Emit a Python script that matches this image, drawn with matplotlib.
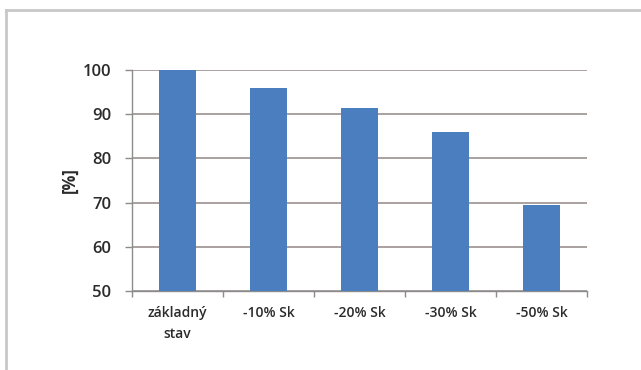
import matplotlib
matplotlib.use("Agg")
import matplotlib.pyplot as plt
from matplotlib.lines import Line2D

categories = ["základný\nstav", "-10% Sk", "-20% Sk", "-30% Sk", "-50% Sk"]
values = [100.0, 96.0, 91.3, 85.9, 69.4]
y_ticks = [50, 60, 70, 80, 90, 100]

plt.rcParams["font.family"] = ["Open Sans", "DejaVu Sans"]

W, H = 641, 370
fig = plt.figure(figsize=(W / 100, H / 100), dpi=100)
fig.patch.set_facecolor("white")

ax = fig.add_axes([132 / W, 1 - 291 / H, (587 - 132) / W, (291 - 70) / H])
x = list(range(len(categories)))
ax.bar(x, values, width=0.4, color="#4a7ebf", zorder=3)

ax.set_xlim(-0.5, len(categories) - 0.5)
ax.set_ylim(50, 100)
ax.set_yticks(y_ticks)
ax.set_yticklabels([str(v) for v in y_ticks], fontsize=12, fontweight="semibold",
                   color="#2b2b2b")
ax.yaxis.grid(True, color="#a39a98", linewidth=1.3, zorder=0)
ax.set_axisbelow(True)

# category labels centred, ticks on category boundaries
ax.set_xticks(x)
ax.set_xticklabels(categories, fontsize=10, fontweight="semibold", color="#2b2b2b",
                   linespacing=1.6)
ax.tick_params(axis="x", which="major", length=0, pad=11)
ax.set_xticks([i + 0.5 for i in range(-1, len(categories))], minor=True)
ax.tick_params(axis="x", which="minor", length=4, color="#8c8c8c", width=1)
ax.tick_params(axis="y", length=5, color="#8c8c8c", width=1, pad=10)

for side in ("top", "right"):
    ax.spines[side].set_visible(False)
for side in ("left", "bottom"):
    ax.spines[side].set_color("#8c8c8c")
    ax.spines[side].set_linewidth(1)

ax.set_ylabel("[%]", fontsize=12, fontweight="bold", color="#2b2b2b", labelpad=3)

# light outer frame (top and left edges)
fig.add_artist(Line2D([5.5 / W, 5.5 / W], [0, 1 - 9.5 / H], color="#c8c8c8", linewidth=2))
fig.add_artist(Line2D([5.5 / W, 1], [1 - 9.5 / H, 1 - 9.5 / H], color="#c8c8c8", linewidth=2))

fig.savefig("out.png", dpi=100)
